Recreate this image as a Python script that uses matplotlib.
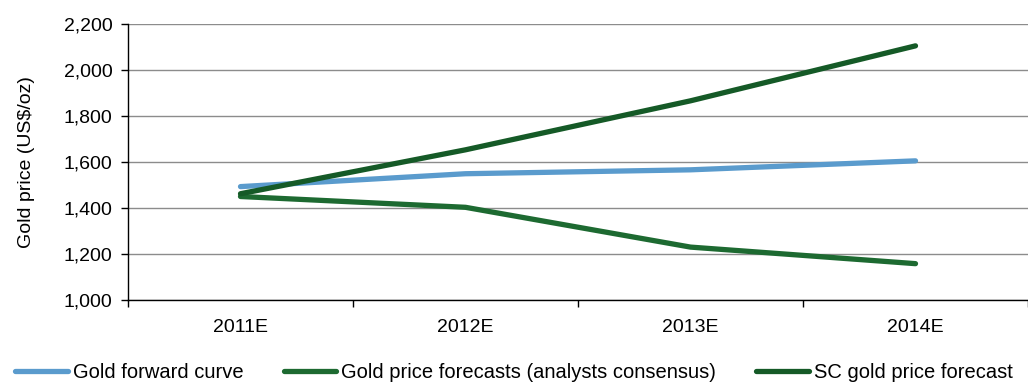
import matplotlib
matplotlib.use('Agg')
import matplotlib.pyplot as plt
from matplotlib.ticker import FuncFormatter, FixedLocator

# Daten
jahre = ['2011E', '2012E', '2013E', '2014E']
forward_curve = [1493, 1549, 1566, 1605]
analysten = [1450, 1403, 1230, 1158]
sc_prognose = [1462, 1653, 1866, 2105]

labels = ['Gold forward curve',
          'Gold price forecasts (analysts consensus)',
          'SC gold price forecast']
farben = ['#5A9BCD', '#1D6A31', '#155A27']

plt.rcParams['font.family'] = ['Liberation Sans', 'DejaVu Sans']

fig = plt.figure(figsize=(10.28, 3.86), dpi=100)
ax = fig.add_axes([128 / 1028, 1 - 300 / 386, 900 / 1028, 276 / 386])

x = list(range(len(jahre)))
for werte, farbe, label in zip([forward_curve, analysten, sc_prognose], farben, labels):
    ax.plot(x, werte, color=farbe, linewidth=3.8, solid_capstyle='round',
            solid_joinstyle='round', label=label)

ax.set_xlim(-0.5, len(jahre) - 0.5)
ax.set_ylim(1000, 2200)
ax.set_yticks(range(1000, 2201, 200))
ax.yaxis.set_major_formatter(FuncFormatter(lambda v, p: f'{int(v):,}'))
ax.yaxis.grid(True, color='#8c8c8c', linewidth=1.0)
ax.set_axisbelow(True)

# Kategorien zwischen den Ticks
ax.xaxis.set_major_locator(FixedLocator([i - 0.5 for i in range(len(jahre) + 1)]))
ax.xaxis.set_minor_locator(FixedLocator(x))
ax.set_xticklabels([])
ax.set_xticklabels(jahre, minor=True)
ax.tick_params(axis='x', which='minor', length=0, pad=14, labelsize=14)
ax.tick_params(axis='x', which='major', length=5, width=1, color='black')
ax.tick_params(axis='y', length=5, width=1, labelsize=14, pad=6)

for s in ['top', 'right']:
    ax.spines[s].set_visible(False)
for s in ['left', 'bottom']:
    ax.spines[s].set_color('black')
    ax.spines[s].set_linewidth(1.0)

ax.set_ylabel('Gold price (US$/oz)', fontsize=14, labelpad=21)

fig.legend(loc='center', bbox_to_anchor=(0.5, 1 - 373 / 386), ncol=3, frameon=False,
           fontsize=14.5, handlelength=2.6, handletextpad=0.25, columnspacing=2.0)

plt.savefig('out.png', dpi=100)
